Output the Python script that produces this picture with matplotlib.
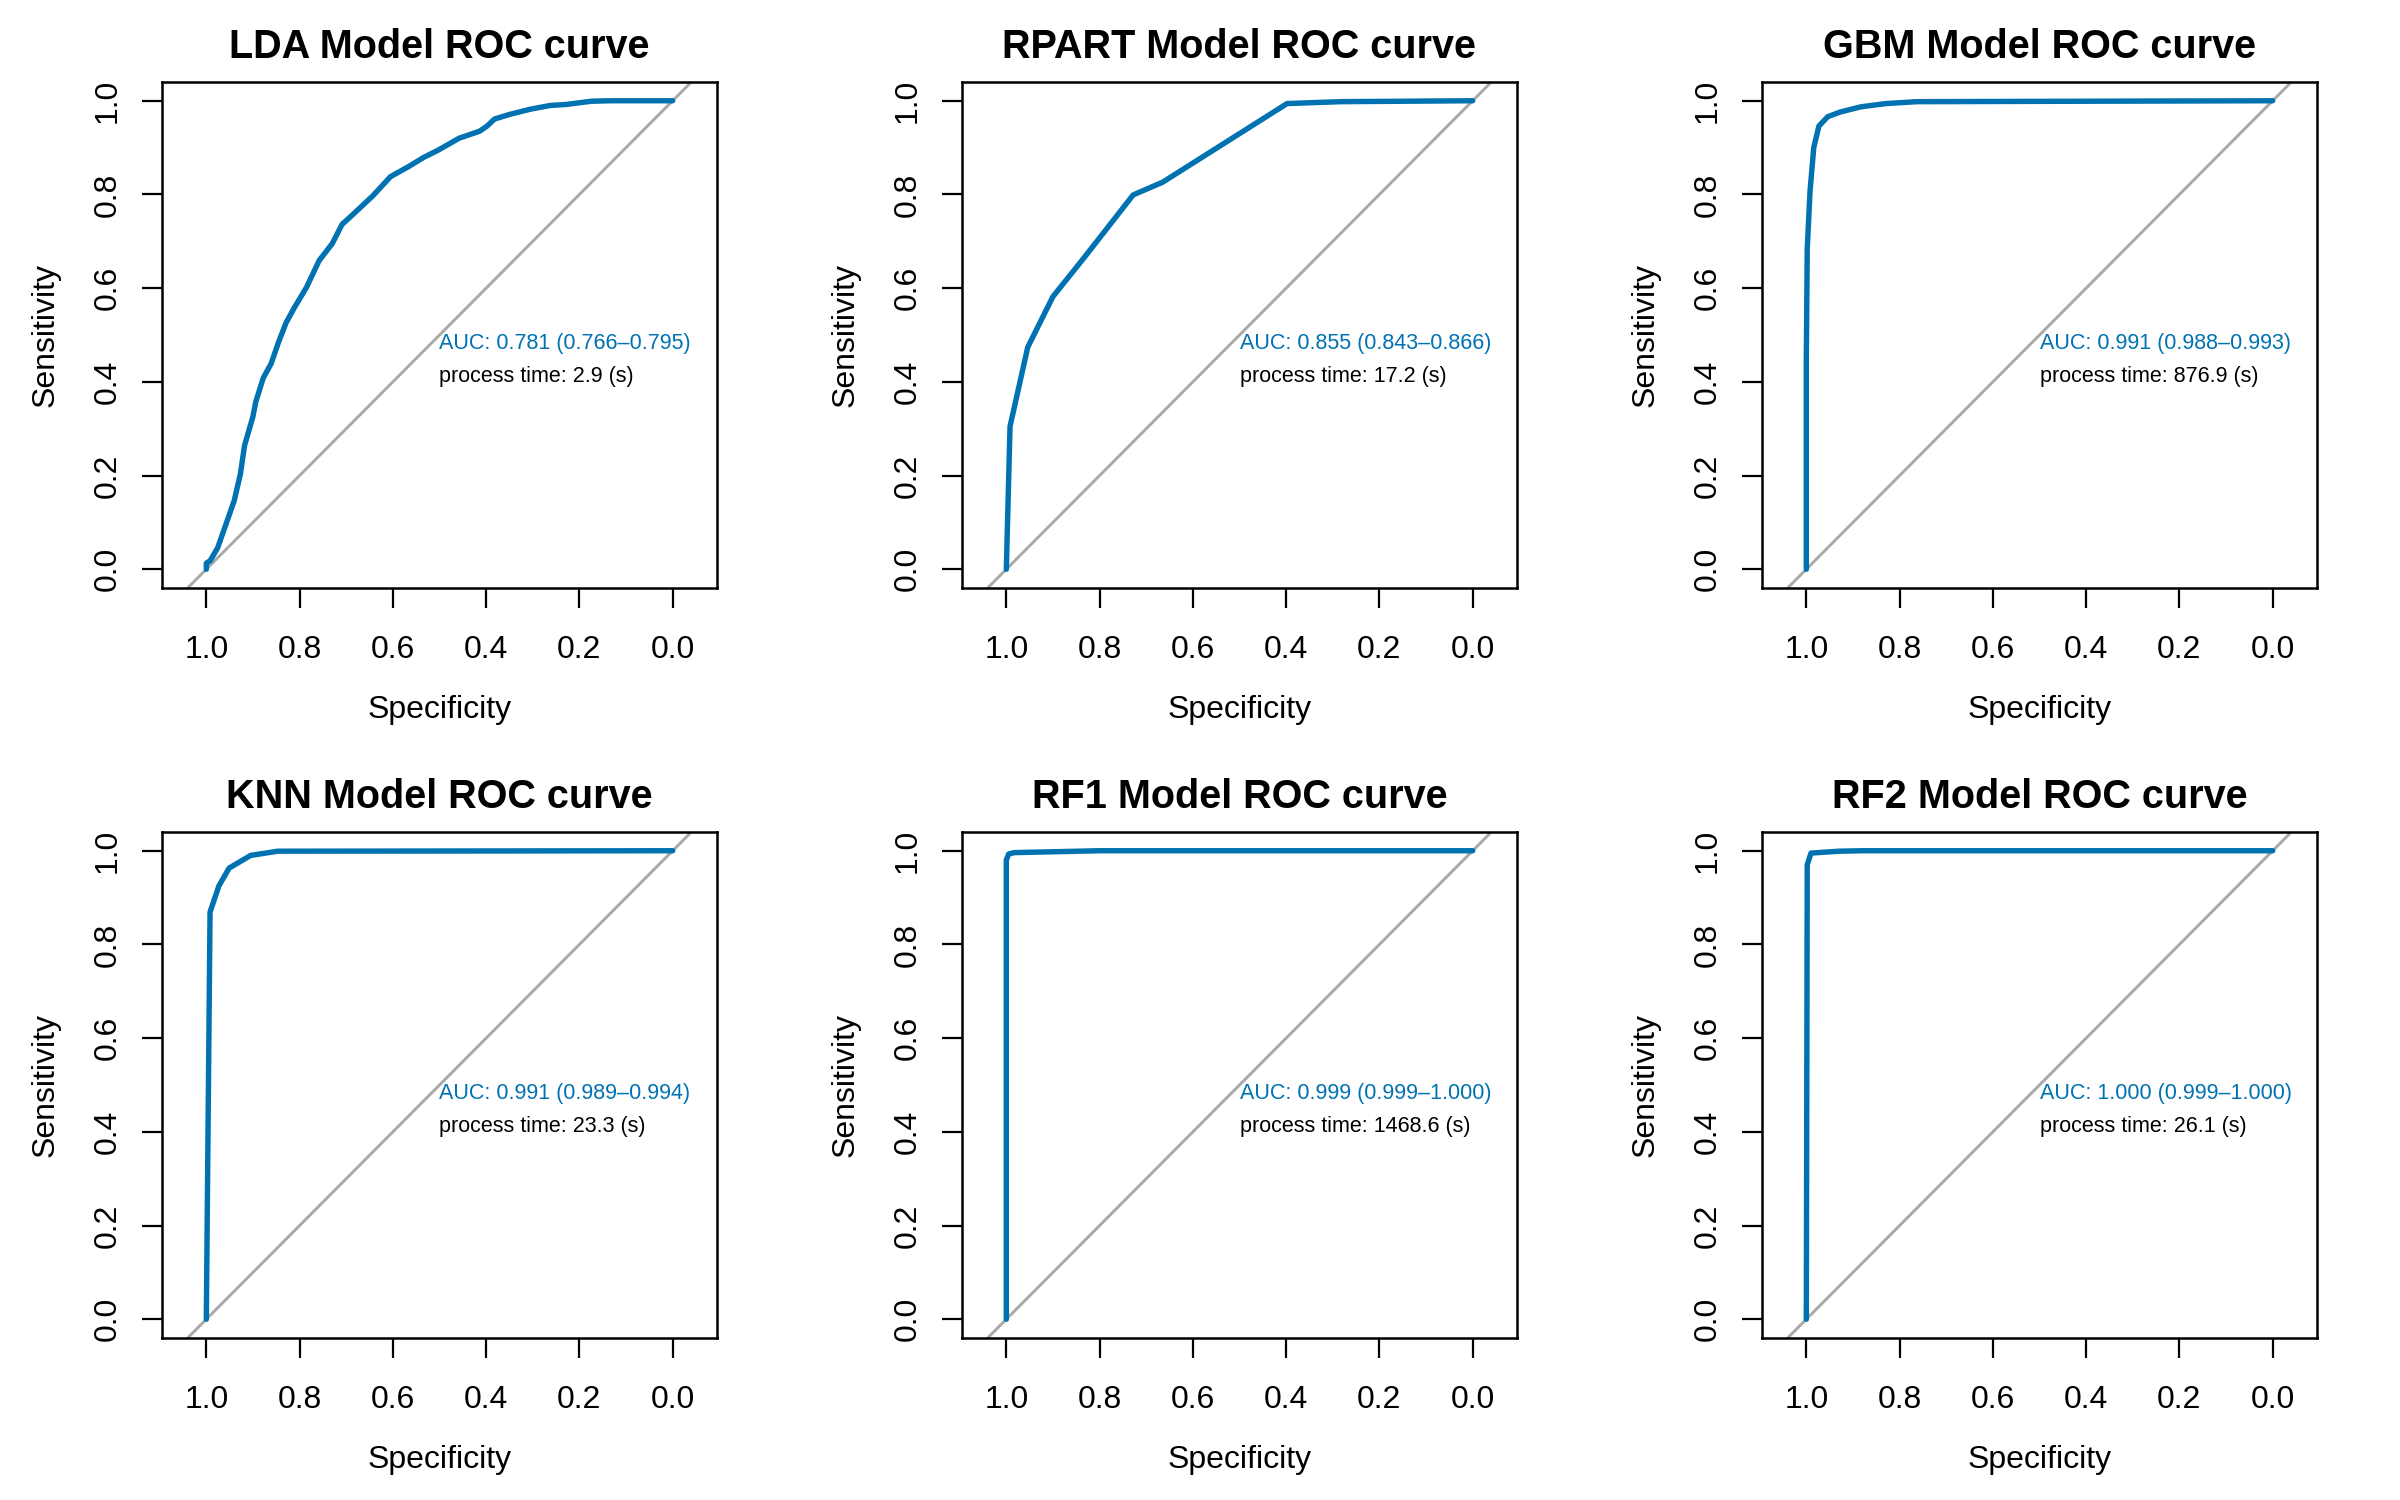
import numpy as np
import matplotlib
matplotlib.use("Agg")
import matplotlib.pyplot as plt

plt.rcParams["font.family"] = ["Liberation Sans", "DejaVu Sans"]

# ── ROC curves (specificity, sensitivity) ──────────────────────────────────
lda_spec = [1.0, 1.0, 0.992, 0.976, 0.960, 0.940, 0.927, 0.918, 0.900, 0.894, 0.878,
            0.861, 0.845, 0.829, 0.812, 0.785, 0.768, 0.758, 0.730, 0.709, 0.687,
            0.643, 0.605, 0.567, 0.534, 0.502, 0.458, 0.414, 0.398, 0.382, 0.349,
            0.305, 0.262, 0.229, 0.174, 0.131, 0.0]
lda_sens = [0.0, 0.013, 0.018, 0.045, 0.090, 0.147, 0.203, 0.264, 0.326, 0.357, 0.408,
            0.439, 0.485, 0.526, 0.557, 0.602, 0.638, 0.659, 0.695, 0.736, 0.756,
            0.797, 0.838, 0.859, 0.879, 0.895, 0.920, 0.935, 0.946, 0.961, 0.971,
            0.982, 0.990, 0.992, 0.999, 1.0, 1.0]

rpart_spec = [1.0, 0.992, 0.954, 0.900, 0.834, 0.728, 0.665, 0.398, 0.283, 0.0]
rpart_sens = [0.0, 0.305, 0.474, 0.582, 0.664, 0.799, 0.826, 0.994, 0.998, 1.0]

gbm_spec = [1.0, 1.0, 0.998, 0.992, 0.984, 0.973, 0.954, 0.927, 0.883, 0.829, 0.763, 0.0]
gbm_sens = [0.0, 0.449, 0.684, 0.807, 0.900, 0.946, 0.966, 0.976, 0.987, 0.994, 0.998, 1.0]

knn_spec = [1.0, 0.992, 0.973, 0.951, 0.905, 0.847, 0.0]
knn_sens = [0.0, 0.869, 0.925, 0.963, 0.990, 0.999, 1.0]

rf1_spec = [1.0, 1.0, 0.995, 0.983, 0.80, 0.0]
rf1_sens = [0.0, 0.980, 0.993, 0.996, 1.0, 1.0]

rf2_spec = [1.0, 0.998, 0.99, 0.93, 0.88, 0.0]
rf2_sens = [0.0, 0.970, 0.995, 0.999, 1.0, 1.0]

models = ["LDA", "RPART", "GBM", "KNN", "RF1", "RF2"]
specs = [lda_spec, rpart_spec, gbm_spec, knn_spec, rf1_spec, rf2_spec]
senss = [lda_sens, rpart_sens, gbm_sens, knn_sens, rf1_sens, rf2_sens]
auc_labels = ["AUC: 0.781 (0.766–0.795)", "AUC: 0.855 (0.843–0.866)",
              "AUC: 0.991 (0.988–0.993)", "AUC: 0.991 (0.989–0.994)",
              "AUC: 0.999 (0.999–1.000)", "AUC: 1.000 (0.999–1.000)"]
proc_times = [2.9, 17.2, 876.9, 23.3, 1468.6, 26.1]

ticks = [1.0, 0.8, 0.6, 0.4, 0.2, 0.0]
BLUE = "#0072B2"
GREY = "#A9A9A9"

W, H = 2400, 1500
fig = plt.figure(figsize=(24, 15), dpi=100)
fig.patch.set_facecolor("white")

for i, name in enumerate(models):
    row, col = divmod(i, 3)
    left = (162 + 800 * col) / W
    bottom = 1 - (588 + 750 * row) / H
    ax = fig.add_axes([left, bottom, 555 / W, 506 / H])

    # chance line, then the ROC curve
    ax.axline((0, 1), slope=-1, color=GREY, lw=2.1, zorder=1)
    ax.plot(specs[i], senss[i], color=BLUE, lw=3.9, zorder=2,
            solid_capstyle="round", solid_joinstyle="round")

    ax.set_xlim(1.095, -0.095)
    ax.set_ylim(-0.04, 1.04)
    ax.set_xticks(ticks)
    ax.set_yticks(ticks)
    ax.set_xticklabels([f"{t:.1f}" for t in ticks])
    ax.set_yticklabels([f"{t:.1f}" for t in ticks], rotation=90, va="center")
    ax.tick_params(direction="out", length=14.5, width=1.6, labelsize=23, pad=14)
    ax.tick_params(axis="x", pad=19)
    for sp in ax.spines.values():
        sp.set_linewidth(1.8)

    ax.text(0.5, 0.481, auc_labels[i], color=BLUE, fontsize=15.5, va="center", ha="left")
    ax.text(0.5, 0.412, f"process time: {proc_times[i]} (s)", color="black",
            fontsize=15.5, va="center", ha="left")

    ax.set_title(f"{name} Model ROC curve", fontsize=28.5, fontweight="bold",
                 y=1.07, va="center", pad=0)
    ax.set_xlabel("Specificity", fontsize=23, va="center")
    ax.xaxis.set_label_coords(0.5, -(710 - 588) / 506)
    ax.set_ylabel("Sensitivity", fontsize=23, va="center")
    ax.yaxis.set_label_coords((46 - 162) / 555, 0.5)

fig.savefig("out.png", dpi=100, facecolor="white")
